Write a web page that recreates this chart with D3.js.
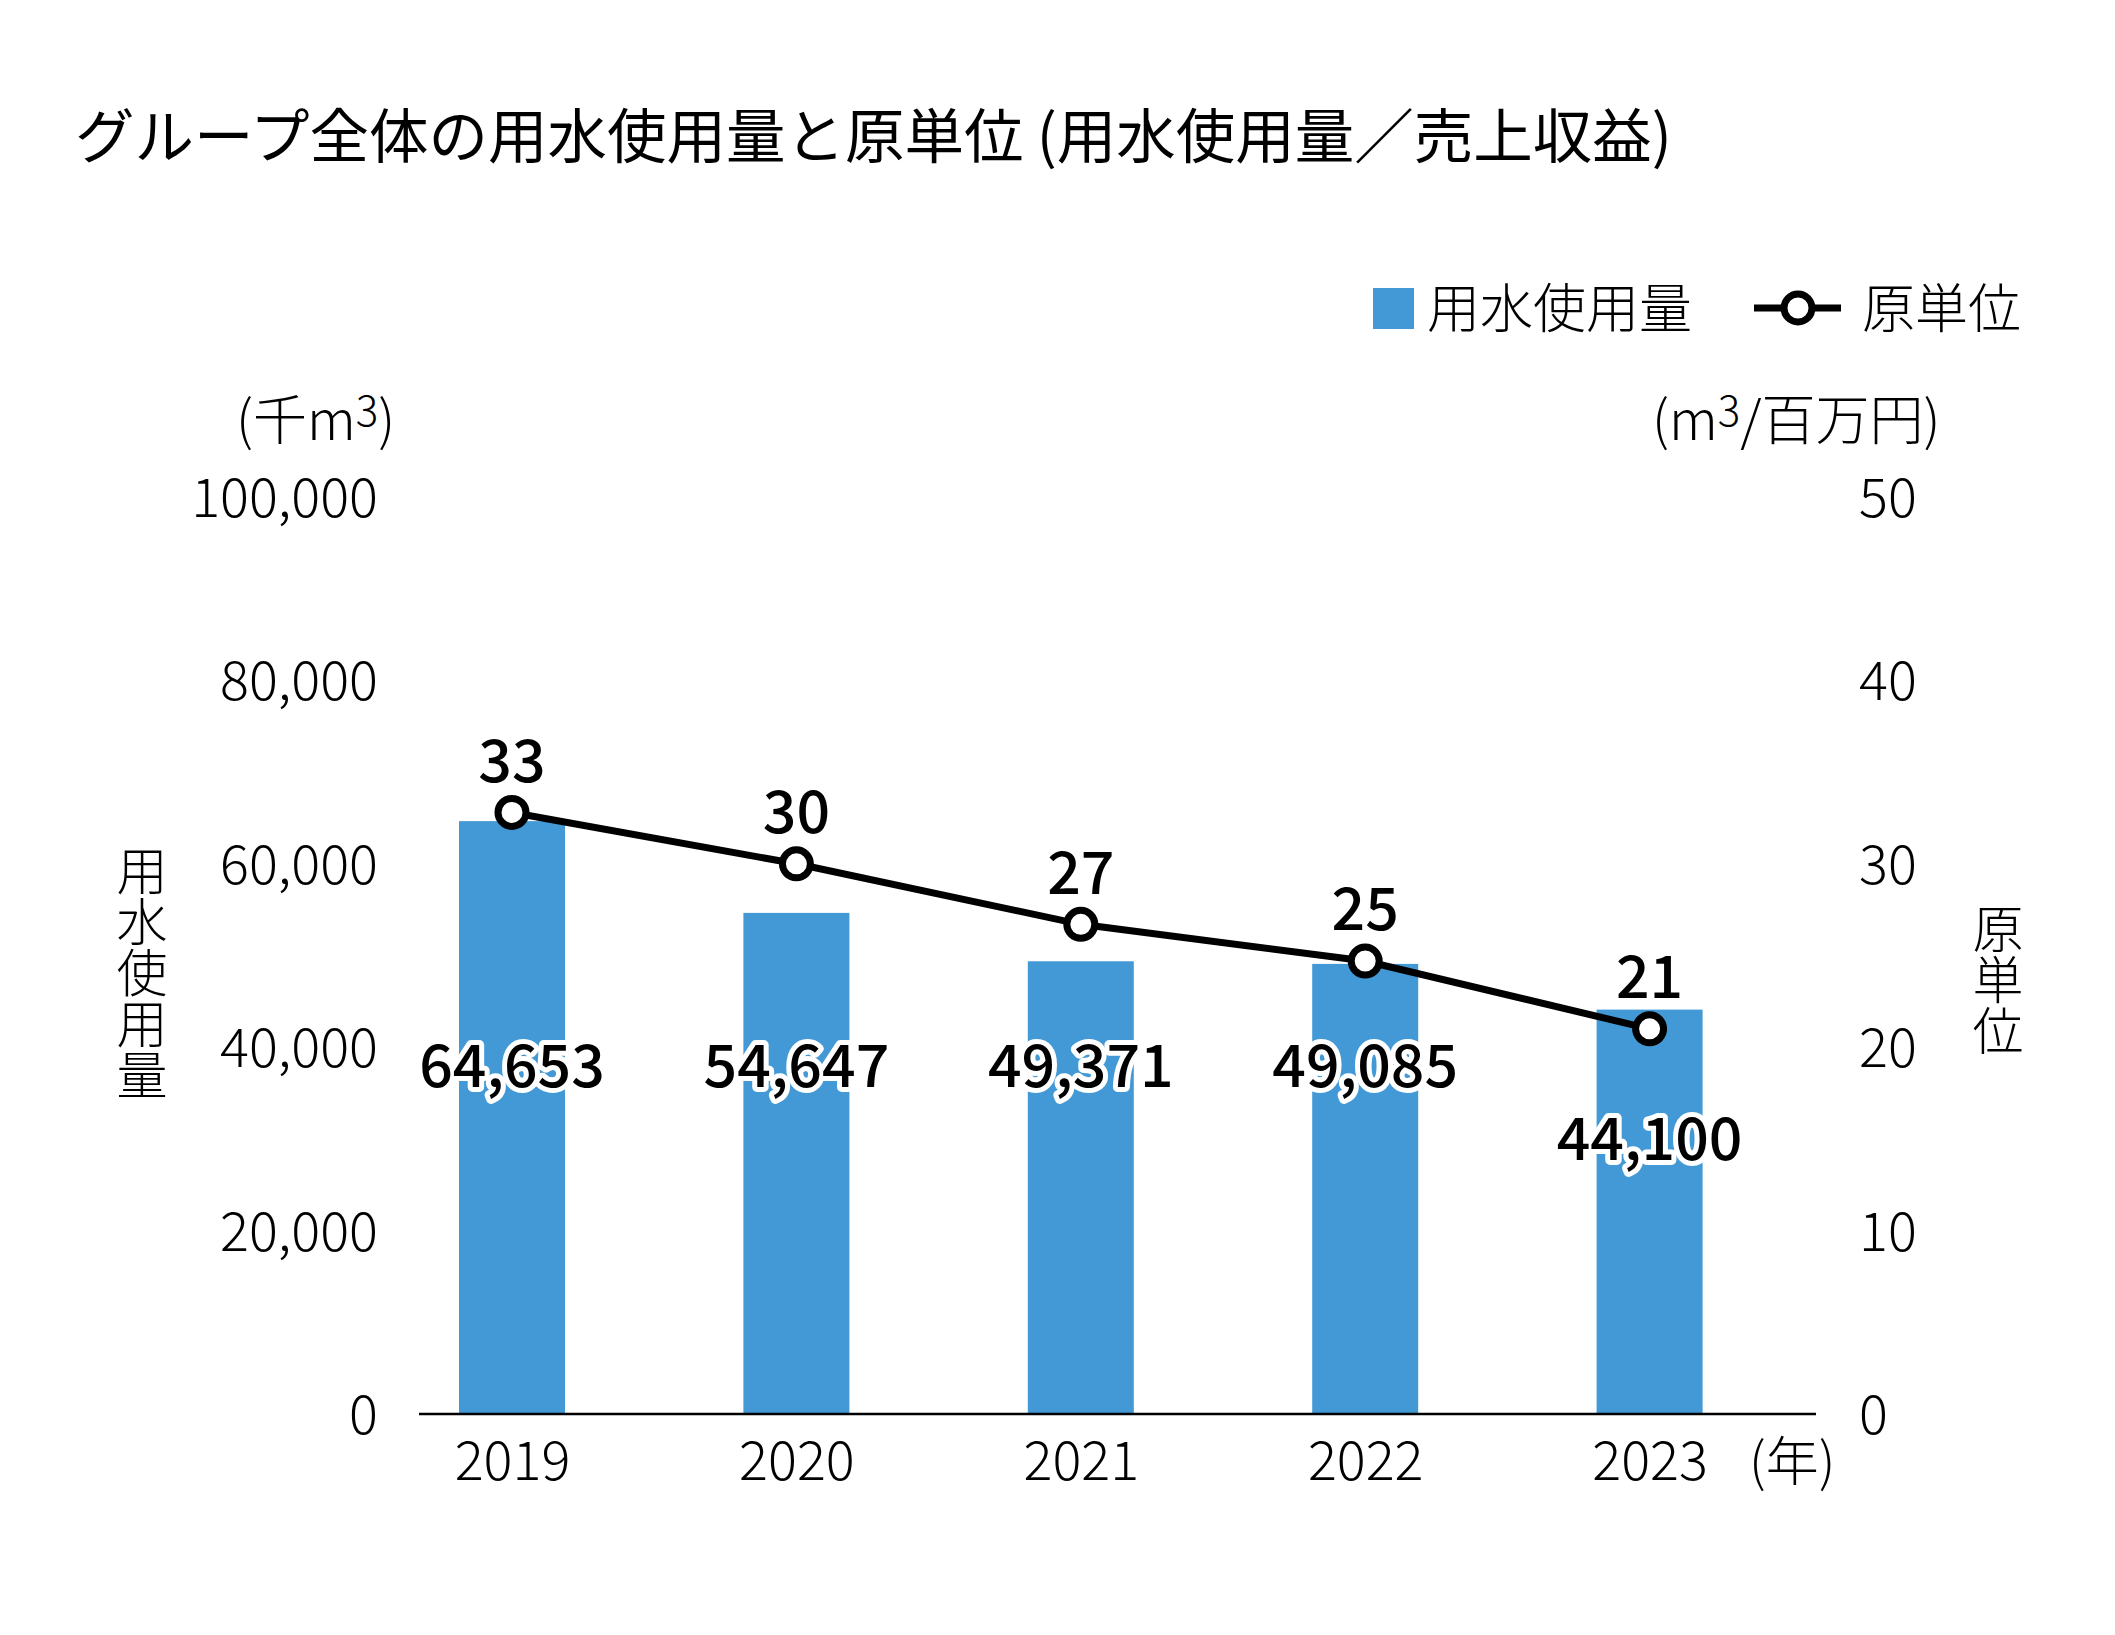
<!DOCTYPE html>
<html>
<head>
<meta charset="utf-8">
<script src="https://cdn.jsdelivr.net/npm/d3@7"></script>
<style>
  html, body { margin: 0; padding: 0; background: #fff; }
  svg { display: block; font-family: "Noto Sans CJK JP", "Noto Sans", sans-serif; }
</style>
</head>
<body>
<svg id="chart" width="2115" height="1635"></svg>
<script>
// ---- data ----
const years = ["2019", "2020", "2021", "2022", "2023"];
const waterUse = [64653, 54647, 49371, 49085, 44100];      // 千m3
const intensity = [32.8, 30.0, 26.7, 24.7, 21.0];          // m3/百万円
const leftTicks = [0, 20000, 40000, 60000, 80000, 100000];
const rightTicks = [0, 10, 20, 30, 40, 50];
const title = "グループ全体の用水使用量と原単位 (用水使用量／売上収益)";
const seriesNames = ["用水使用量", "原単位"];
const leftUnit = ["(千m", "3", ")"];
const rightUnit = ["(m", "3", "/百万円)"];
const xUnit = "(年)";

// ---- styles ----
const barColor = "#4299d6";
const fontLight = 300;
const tickSize = 54;

const svg = d3.select("#chart");
svg.append("rect").attr("width", 2115).attr("height", 1635).attr("fill", "#fff");

const x = d3.scalePoint().domain(years).range([512, 1649.6]);
const yL = d3.scaleLinear().domain([0, 100000]).range([1414, 497]);
const yR = d3.scaleLinear().domain([0, 50]).range([1414, 497]);
const barW = 106;

// title
svg.append("text").attr("x", 75).attr("y", 135).attr("dy", "0.38em")
  .attr("font-size", 59.5).attr("font-weight", 400).attr("fill", "#000").text(title);

// legend
const lg = svg.append("g");
lg.append("rect").attr("x", 1373).attr("y", 288).attr("width", 41).attr("height", 41).attr("fill", barColor);
lg.append("text").attr("x", 1427).attr("y", 308).attr("dy", "0.38em")
  .attr("font-size", 53).attr("font-weight", fontLight).text(seriesNames[0]);
lg.append("line").attr("x1", 1754).attr("x2", 1841).attr("y1", 308).attr("y2", 308)
  .attr("stroke", "#000").attr("stroke-width", 7);
lg.append("circle").attr("cx", 1798).attr("cy", 308).attr("r", 14)
  .attr("fill", "#fff").attr("stroke", "#000").attr("stroke-width", 7);
lg.append("text").attr("x", 1862).attr("y", 308).attr("dy", "0.38em")
  .attr("font-size", 53).attr("font-weight", fontLight).text(seriesNames[1]);

// unit labels
function unitText(xPos, parts, anchor) {
  const t = svg.append("text").attr("x", xPos).attr("y", 440)
    .attr("font-size", 54).attr("font-weight", fontLight).attr("text-anchor", anchor);
  t.append("tspan").text(parts[0]);
  t.append("tspan").attr("font-size", 42).attr("dy", -14).text(parts[1]);
  t.append("tspan").attr("dy", 14).text(parts[2]);
}
unitText(236, leftUnit, "start");
unitText(1652, rightUnit, "start");

// vertical axis titles
function vertical(xc, yTop, str) {
  svg.append("text").attr("x", xc).attr("y", yTop)
    .attr("font-size", 51).attr("font-weight", fontLight)
    .attr("writing-mode", "vertical-rl").attr("text-anchor", "start")
    .style("writing-mode", "vertical-rl")
    .text(str);
}
vertical(142, 845, seriesNames[0]);
vertical(1998, 903, seriesNames[1]);

// left axis
const gL = svg.append("g").attr("transform", "translate(378,0)")
  .call(d3.axisLeft(yL).tickValues(leftTicks).tickSize(0).tickPadding(0).tickFormat(d3.format(",")));
gL.select(".domain").remove();
gL.selectAll("text").attr("font-size", tickSize).attr("font-weight", fontLight)
  .attr("font-family", "Noto Sans CJK JP").attr("fill", "#000").attr("dy", "0.36em");

// right axis
const gR = svg.append("g").attr("transform", "translate(1859,0)")
  .call(d3.axisRight(yR).tickValues(rightTicks).tickSize(0).tickPadding(0));
gR.select(".domain").remove();
gR.selectAll("text").attr("font-size", tickSize).attr("font-weight", fontLight)
  .attr("font-family", "Noto Sans CJK JP").attr("fill", "#000").attr("dy", "0.36em");

// bars
svg.append("g").selectAll("rect").data(years).join("rect")
  .attr("x", d => x(d) - barW / 2)
  .attr("y", (d, i) => yL(waterUse[i]))
  .attr("width", barW)
  .attr("height", (d, i) => yL(0) - yL(waterUse[i]))
  .attr("fill", barColor);

// x axis
const gX = svg.append("g").attr("transform", "translate(0,1414)")
  .call(d3.axisBottom(x).tickSize(0).tickPadding(27));
gX.select(".domain").remove();
gX.selectAll("text").attr("font-size", tickSize).attr("font-weight", fontLight)
  .attr("font-family", "Noto Sans CJK JP").attr("fill", "#000").attr("dy", "0.36em")
  .attr("y", 47);
svg.append("line").attr("x1", 419).attr("x2", 1816).attr("y1", 1414).attr("y2", 1414)
  .attr("stroke", "#000").attr("stroke-width", 2.5);
svg.append("text").attr("x", 1749).attr("y", 1461).attr("dy", "0.38em")
  .attr("font-size", 53).attr("font-weight", fontLight).text(xUnit);

// line
const pts = years.map((d, i) => [x(d), yR(intensity[i])]);
svg.append("path").attr("d", d3.line()(pts)).attr("fill", "none")
  .attr("stroke", "#000").attr("stroke-width", 7);
svg.append("g").selectAll("circle").data(pts).join("circle")
  .attr("cx", d => d[0]).attr("cy", d => d[1]).attr("r", 14)
  .attr("fill", "#fff").attr("stroke", "#000").attr("stroke-width", 7);

// labels
function halo(sel) {
  sel.attr("font-size", 59).attr("font-weight", 500).attr("text-anchor", "middle")
    .attr("dy", "0.36em").attr("fill", "#000")
    .attr("stroke", "#fff").attr("stroke-width", 10).attr("stroke-linejoin", "round")
    .attr("paint-order", "stroke");
}
svg.append("g").selectAll("text").data(years).join("text")
  .attr("x", d => x(d)).attr("y", (d, i) => yR(intensity[i]) - 52)
  .text((d, i) => d3.format(".0f")(intensity[i])).call(halo);

const baseLabelY = 1066;
svg.append("g").selectAll("text").data(years).join("text")
  .attr("x", d => x(d))
  .attr("y", (d, i) => {
    const py = yR(intensity[i]);
    return (py + 60 > baseLabelY - 25) ? py + 110 : baseLabelY;
  })
  .text((d, i) => d3.format(",")(waterUse[i])).call(halo);
</script>
</body>
</html>
